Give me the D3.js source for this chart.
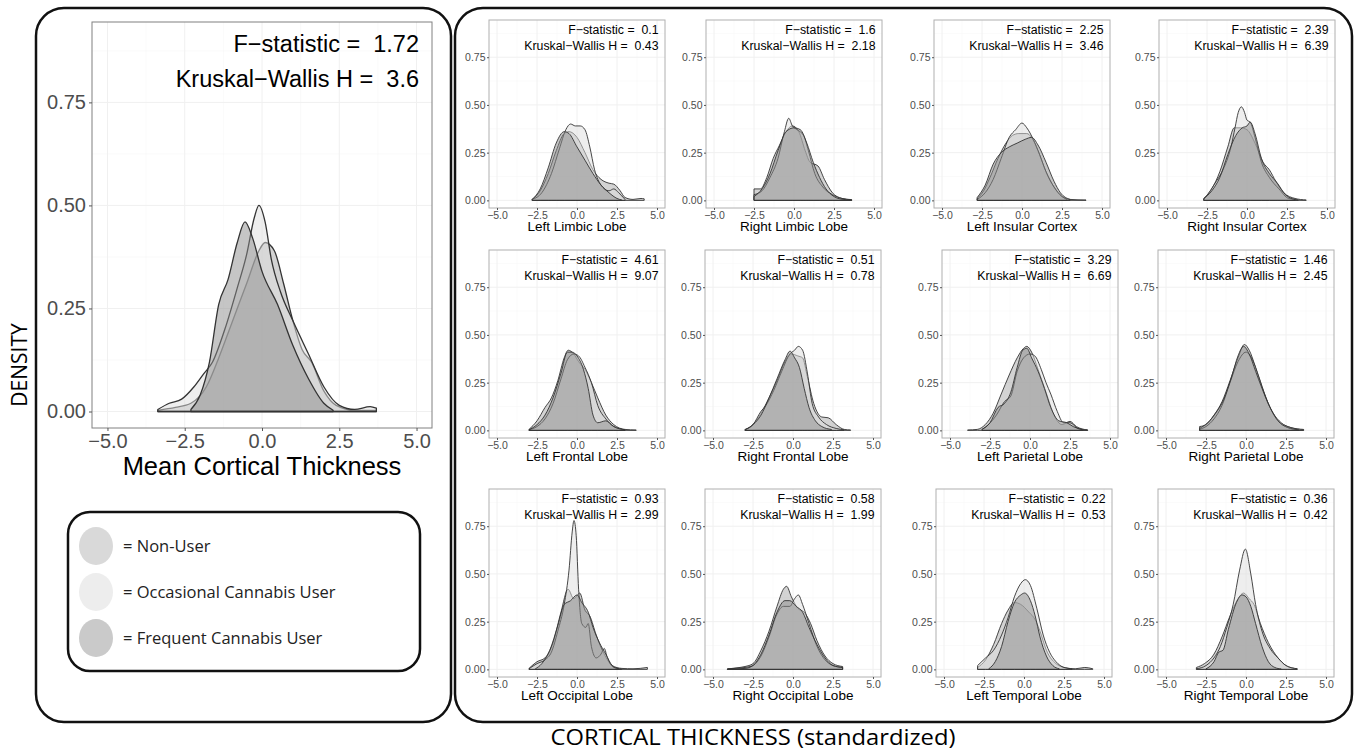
<!DOCTYPE html>
<html>
<head>
<meta charset="utf-8">
<script src="https://cdn.jsdelivr.net/npm/d3@7"></script>
<style>
  body { margin: 0; background: #fff; }
  text { white-space: pre; }
</style>
</head>
<body>
<div id="chart"></div>
<script>
width = 1359;
height = 753;

// groups, in drawing order
const groups = ["Non-User", "Occasional Cannabis User", "Frequent Cannabis User"];
const legendFill = ["#d9d9d9", "#ededed", "#cacaca"];
const curveFill = ["#a8a8a8", "#dedede", "#8c8c8c"];

const xTicks = [-5, -2.5, 0, 2.5, 5];
const yTicks = [0, 0.25, 0.5, 0.75];

// main panel
const meanFStat = 1.72;
const meanKWH = 3.6;
const meanNon = [[-3.37,0.003],[-2.8,0.01],[-2.3,0.02],[-1.8,0.06],[-1.4,0.13],[-1.0,0.21],[-0.5,0.31],[-0.1,0.39],[0.1,0.41],[0.4,0.39],[0.7,0.31],[1.0,0.22],[1.3,0.15],[1.6,0.12],[2.0,0.05],[2.4,0.015],[3.0,0.003],[3.7,0.003]];
const meanOcc = [[-3.37,0.005],[-3.0,0.02],[-2.6,0.03],[-2.2,0.06],[-1.9,0.09],[-1.6,0.12],[-1.2,0.2],[-0.8,0.3],[-0.5,0.38],[-0.25,0.47],[-0.1,0.5],[0.1,0.46],[0.3,0.37],[0.6,0.29],[1.0,0.22],[1.5,0.14],[2.0,0.06],[2.5,0.015],[3.0,0.005],[3.5,0.012],[3.7,0.008]];
const meanFreq = [[-2.3,0.005],[-2.0,0.04],[-1.7,0.12],[-1.4,0.26],[-1.1,0.32],[-0.8,0.41],[-0.55,0.46],[-0.3,0.42],[0,0.34],[0.5,0.26],[1.0,0.16],[1.5,0.08],[2.0,0.02],[2.3,0.003]];

// regional panels
const regions = ["Left Limbic Lobe", "Right Limbic Lobe", "Left Insular Cortex", "Right Insular Cortex",
                 "Left Frontal Lobe", "Right Frontal Lobe", "Left Parietal Lobe", "Right Parietal Lobe",
                 "Left Occipital Lobe", "Right Occipital Lobe", "Left Temporal Lobe", "Right Temporal Lobe"];
const fStats = [0.1, 1.6, 2.25, 2.39, 4.61, 0.51, 3.29, 1.46, 0.93, 0.58, 0.22, 0.36];
const kwH = [0.43, 2.18, 3.46, 6.39, 9.07, 0.78, 6.69, 2.45, 2.99, 1.99, 0.53, 0.42];

const leftLimbicNon = [[-2.8,0.005],[-2.3,0.05],[-1.8,0.14],[-1.3,0.26],[-0.8,0.35],[-0.5,0.36],[0,0.33],[0.5,0.25],[1.0,0.16],[1.5,0.11],[2.0,0.09],[2.3,0.085],[2.7,0.05],[3.0,0.015],[3.5,0.005],[4.0,0.01],[4.2,0.008]];
const leftLimbicOcc = [[-2.8,0.005],[-2.2,0.04],[-1.6,0.14],[-1.1,0.27],[-0.7,0.37],[-0.4,0.4],[-0.1,0.39],[0.2,0.39],[0.5,0.37],[0.8,0.28],[1.1,0.16],[1.5,0.08],[2.0,0.05],[2.3,0.06],[2.6,0.04],[3.0,0.005]];
const leftLimbicFreq = [[-2.8,0.005],[-2.3,0.06],[-1.8,0.17],[-1.3,0.3],[-0.8,0.36],[-0.5,0.35],[0,0.28],[0.5,0.21],[1.0,0.14],[1.5,0.08],[2.0,0.04],[2.5,0.01],[2.8,0.002]];

const rightLimbicNon = [[-2.5,0.06],[-2.1,0.06],[-1.7,0.12],[-1.3,0.22],[-0.9,0.29],[-0.5,0.36],[-0.1,0.39],[0.3,0.36],[0.7,0.26],[1.0,0.2],[1.5,0.18],[1.9,0.11],[2.4,0.04],[3.0,0.01],[3.6,0.003]];
const rightLimbicOcc = [[-2.5,0.03],[-2.0,0.05],[-1.5,0.12],[-1.0,0.22],[-0.6,0.36],[-0.33,0.43],[-0.1,0.39],[0.2,0.37],[0.6,0.34],[0.9,0.26],[1.3,0.14],[1.8,0.07],[2.4,0.03],[3.0,0.01],[3.6,0.004]];
const rightLimbicFreq = [[-2.5,0.02],[-2.0,0.06],[-1.5,0.14],[-1.0,0.26],[-0.5,0.36],[0,0.38],[0.4,0.37],[0.8,0.3],[1.2,0.2],[1.6,0.12],[2.0,0.06],[2.5,0.02],[3.0,0.006],[3.6,0.002]];

const leftInsularNon = [[-2.8,0.01],[-2.4,0.05],[-2.0,0.12],[-1.5,0.22],[-1.0,0.3],[-0.6,0.34],[-0.2,0.35],[0.3,0.35],[0.6,0.33],[1.0,0.26],[1.5,0.15],[2.0,0.07],[2.5,0.02],[3.0,0.005],[4.0,0.002]];
const leftInsularOcc = [[-2.8,0.005],[-2.3,0.04],[-1.8,0.11],[-1.3,0.22],[-0.8,0.33],[-0.4,0.37],[0,0.405],[0.3,0.38],[0.7,0.32],[1.1,0.24],[1.5,0.15],[2.0,0.07],[2.5,0.02],[2.8,0.005]];
const leftInsularFreq = [[-2.8,0.015],[-2.3,0.08],[-1.8,0.19],[-1.3,0.25],[-0.8,0.28],[-0.3,0.3],[0.2,0.32],[0.6,0.33],[1.0,0.29],[1.5,0.2],[2.0,0.1],[2.4,0.04],[3.0,0.005]];

const rightInsularNon = [[-2.7,0.01],[-2.2,0.06],[-1.7,0.15],[-1.2,0.28],[-0.8,0.38],[-0.4,0.38],[0,0.37],[0.5,0.3],[1.0,0.2],[1.4,0.16],[1.8,0.1],[2.3,0.04],[3.0,0.01],[3.7,0.002]];
const rightInsularOcc = [[-2.7,0.005],[-2.3,0.05],[-2.0,0.09],[-1.5,0.16],[-1.0,0.28],[-0.75,0.38],[-0.55,0.46],[-0.35,0.49],[-0.15,0.46],[0,0.42],[0.2,0.41],[0.5,0.33],[0.9,0.2],[1.4,0.12],[2.0,0.06],[2.6,0.01],[3.2,0.003]];
const rightInsularFreq = [[-2.7,0.01],[-2.2,0.05],[-1.7,0.12],[-1.2,0.24],[-0.7,0.34],[-0.3,0.38],[0,0.39],[0.2,0.41],[0.5,0.35],[0.9,0.22],[1.4,0.14],[1.9,0.09],[2.4,0.03],[3.0,0.005]];

const leftFrontalNon = [[-3.0,0.005],[-2.5,0.05],[-2.0,0.12],[-1.6,0.17],[-1.2,0.26],[-0.8,0.38],[-0.55,0.42],[-0.2,0.4],[0.1,0.36],[0.5,0.32],[0.9,0.25],[1.3,0.17],[1.8,0.08],[2.3,0.03],[3.0,0.005],[3.7,0.002]];
const leftFrontalOcc = [[-3.0,0.003],[-2.5,0.02],[-2.0,0.06],[-1.5,0.14],[-1.0,0.27],[-0.6,0.37],[-0.2,0.4],[0.1,0.39],[0.5,0.33],[0.9,0.25],[1.3,0.13],[1.8,0.06],[2.3,0.02],[3.0,0.003]];
const leftFrontalFreq = [[-3.0,0.003],[-2.5,0.03],[-2.0,0.08],[-1.5,0.17],[-1.0,0.3],[-0.6,0.41],[-0.3,0.41],[0,0.39],[0.4,0.32],[0.7,0.22],[1.0,0.08],[1.3,0.04],[1.8,0.05],[2.3,0.02],[3.0,0.003]];

const rightFrontalNon = [[-3.0,0.005],[-2.5,0.03],[-2.0,0.09],[-1.5,0.17],[-1.0,0.26],[-0.5,0.36],[-0.1,0.4],[0.3,0.39],[0.6,0.38],[0.9,0.28],[1.3,0.14],[1.8,0.07],[2.2,0.066],[2.7,0.03],[3.2,0.005],[3.6,0.002]];
const rightFrontalOcc = [[-3.0,0.003],[-2.5,0.03],[-2.0,0.1],[-1.7,0.13],[-1.2,0.21],[-0.7,0.31],[-0.2,0.4],[0.1,0.42],[0.33,0.44],[0.6,0.42],[0.9,0.3],[1.2,0.14],[1.6,0.07],[2.1,0.03],[2.7,0.01],[3.2,0.003]];
const rightFrontalFreq = [[-3.0,0.003],[-2.5,0.03],[-2.0,0.08],[-1.5,0.17],[-1.0,0.27],[-0.5,0.37],[-0.19,0.415],[0.1,0.38],[0.4,0.33],[0.7,0.22],[1.0,0.12],[1.4,0.05],[1.8,0.02],[2.4,0.005]];

const leftParietalNon = [[-3.9,0.002],[-3.3,0.005],[-2.8,0.03],[-2.3,0.09],[-1.8,0.19],[-1.3,0.29],[-0.8,0.38],[-0.4,0.43],[-0.2,0.44],[0.1,0.41],[0.5,0.32],[1.0,0.2],[1.5,0.08],[2.0,0.03],[2.5,0.047],[2.9,0.02],[3.6,0.002]];
const leftParietalOcc = [[-3.0,0.005],[-2.6,0.03],[-2.1,0.08],[-1.6,0.15],[-1.2,0.18],[-0.8,0.31],[-0.4,0.38],[0,0.4],[0.3,0.39],[0.7,0.32],[1.0,0.25],[1.3,0.19],[1.7,0.1],[2.1,0.04],[2.5,0.04],[3.0,0.01],[3.6,0.002]];
const leftParietalFreq = [[-3.0,0.005],[-2.5,0.04],[-2.0,0.12],[-1.6,0.14],[-1.2,0.2],[-0.8,0.33],[-0.45,0.42],[-0.2,0.43],[0.1,0.38],[0.5,0.31],[0.9,0.22],[1.3,0.12],[1.8,0.05],[2.3,0.04],[2.7,0.02],[3.3,0.002]];

const rightParietalNon = [[-2.9,0.02],[-2.5,0.03],[-2.0,0.08],[-1.5,0.15],[-1.0,0.26],[-0.5,0.38],[-0.1,0.45],[0.2,0.42],[0.6,0.33],[1.0,0.23],[1.5,0.12],[2.0,0.05],[2.6,0.02],[3.1,0.008],[3.6,0.003]];
const rightParietalOcc = [[-2.9,0.005],[-2.5,0.02],[-2.0,0.06],[-1.5,0.13],[-1.0,0.25],[-0.5,0.36],[0,0.41],[0.4,0.37],[0.8,0.28],[1.2,0.18],[1.7,0.09],[2.2,0.04],[2.8,0.015],[3.6,0.005]];
const rightParietalFreq = [[-2.9,0.01],[-2.4,0.04],[-1.9,0.09],[-1.4,0.16],[-0.9,0.28],[-0.5,0.39],[-0.15,0.44],[0.2,0.4],[0.6,0.31],[1.0,0.22],[1.5,0.12],[2.0,0.05],[2.6,0.015],[3.3,0.003]];

const leftOccipitalNon = [[-3.0,0.005],[-2.5,0.04],[-2.0,0.06],[-1.5,0.14],[-1.0,0.3],[-0.56,0.42],[-0.2,0.37],[0.17,0.4],[0.5,0.31],[0.8,0.28],[1.2,0.18],[1.7,0.08],[2.2,0.02],[2.8,0.005],[3.5,0.003],[4.4,0.01]];
const leftOccipitalOcc = [[-3.0,0.003],[-2.5,0.03],[-2.0,0.05],[-1.6,0.09],[-1.2,0.2],[-0.8,0.34],[-0.5,0.52],[-0.3,0.72],[-0.19,0.78],[-0.05,0.7],[0.1,0.42],[0.3,0.24],[0.55,0.22],[0.7,0.24],[0.9,0.12],[1.2,0.06],[1.5,0.08],[1.7,0.11],[1.9,0.06],[2.3,0.01],[2.8,0.002]];
const leftOccipitalFreq = [[-2.6,0.003],[-2.2,0.03],[-1.7,0.1],[-1.2,0.23],[-0.8,0.34],[-0.4,0.36],[0,0.39],[0.3,0.35],[0.7,0.3],[1.0,0.22],[1.4,0.14],[1.8,0.08],[2.2,0.02],[2.6,0.003]];

const rightOccipitalNon = [[-4.1,0.002],[-3.5,0.008],[-3.0,0.015],[-2.5,0.03],[-2.0,0.1],[-1.5,0.2],[-1.0,0.33],[-0.6,0.42],[-0.4,0.435],[-0.1,0.38],[0.3,0.32],[0.7,0.3],[1.1,0.24],[1.5,0.15],[2.0,0.07],[2.5,0.03],[3.1,0.015]];
const rightOccipitalOcc = [[-4.1,0.002],[-3.5,0.006],[-3.0,0.01],[-2.5,0.02],[-2.0,0.07],[-1.5,0.17],[-1.0,0.29],[-0.6,0.33],[-0.2,0.33],[0.1,0.37],[0.33,0.39],[0.6,0.34],[1.0,0.24],[1.5,0.12],[2.0,0.05],[2.5,0.02],[3.1,0.01]];
const rightOccipitalFreq = [[-4.1,0.001],[-3.0,0.005],[-2.5,0.02],[-2.0,0.08],[-1.5,0.18],[-1.0,0.3],[-0.5,0.36],[-0.2,0.36],[0.2,0.33],[0.6,0.3],[1.0,0.22],[1.5,0.13],[2.0,0.06],[2.5,0.02],[3.1,0.01]];

const leftTemporalNon = [[-2.9,0.01],[-2.4,0.05],[-1.9,0.13],[-1.4,0.24],[-1.0,0.31],[-0.6,0.35],[-0.2,0.34],[0.3,0.3],[0.7,0.26],[1.0,0.2],[1.4,0.1],[2.0,0.03],[2.6,0.008],[3.2,0.003],[3.8,0.01],[4.3,0.003]];
const leftTemporalOcc = [[-2.9,0.02],[-2.4,0.06],[-1.9,0.1],[-1.4,0.18],[-1.0,0.27],[-0.6,0.38],[-0.2,0.45],[0.08,0.47],[0.4,0.44],[0.8,0.32],[1.2,0.18],[1.6,0.09],[2.0,0.04],[2.5,0.01],[3.0,0.003]];
const leftTemporalFreq = [[-2.2,0.003],[-1.8,0.04],[-1.4,0.12],[-1.0,0.25],[-0.6,0.35],[-0.2,0.39],[0.04,0.4],[0.4,0.36],[0.7,0.28],[1.0,0.17],[1.4,0.07],[1.8,0.02],[2.2,0.003]];

const rightTemporalNon = [[-3.1,0.01],[-2.6,0.03],[-2.0,0.08],[-1.5,0.17],[-1.0,0.28],[-0.5,0.37],[-0.15,0.4],[0.2,0.37],[0.5,0.34],[0.9,0.24],[1.4,0.14],[2.0,0.06],[2.6,0.015],[3.2,0.003]];
const rightTemporalOcc = [[-3.1,0.003],[-2.5,0.02],[-2.0,0.06],[-1.6,0.12],[-1.2,0.22],[-0.8,0.34],[-0.4,0.52],[-0.04,0.63],[0.3,0.5],[0.6,0.34],[1.0,0.2],[1.5,0.11],[2.0,0.06],[2.5,0.02],[3.2,0.003]];
const rightTemporalFreq = [[-2.5,0.003],[-2.0,0.04],[-1.7,0.09],[-1.44,0.1],[-1.1,0.21],[-0.6,0.35],[-0.25,0.39],[0,0.38],[0.3,0.33],[0.6,0.24],[1.0,0.12],[1.4,0.04],[1.8,0.01],[2.2,0.002]];

const regionCurves = [
  [leftLimbicNon, leftLimbicOcc, leftLimbicFreq],
  [rightLimbicNon, rightLimbicOcc, rightLimbicFreq],
  [leftInsularNon, leftInsularOcc, leftInsularFreq],
  [rightInsularNon, rightInsularOcc, rightInsularFreq],
  [leftFrontalNon, leftFrontalOcc, leftFrontalFreq],
  [rightFrontalNon, rightFrontalOcc, rightFrontalFreq],
  [leftParietalNon, leftParietalOcc, leftParietalFreq],
  [rightParietalNon, rightParietalOcc, rightParietalFreq],
  [leftOccipitalNon, leftOccipitalOcc, leftOccipitalFreq],
  [rightOccipitalNon, rightOccipitalOcc, rightOccipitalFreq],
  [leftTemporalNon, leftTemporalOcc, leftTemporalFreq],
  [rightTemporalNon, rightTemporalOcc, rightTemporalFreq]
];

// panel placement (pasted-up figure, so not a perfect grid)
const panelPos = [
  [489, 20], [706, 20], [934, 20], [1159, 20],
  [489, 250], [705, 250], [942, 250], [1158, 250],
  [489, 489], [705, 489], [936, 489], [1158, 489]
];

const svg = d3.select("#chart")
              .append("svg")
              .attr("width", width)
              .attr("height", height);

const sansR = "'Liberation Sans', Arial, sans-serif";
const sansM = "'Open Sans', 'Noto Sans', sans-serif";

// outer rounded frames
svg.append("rect").attr("x", 36).attr("y", 8).attr("width", 415).attr("height", 714)
   .attr("rx", 28).attr("fill", "none").attr("stroke", "#111").attr("stroke-width", 2.5);
svg.append("rect").attr("x", 455).attr("y", 8).attr("width", 897).attr("height", 714)
   .attr("rx", 28).attr("fill", "none").attr("stroke", "#111").attr("stroke-width", 2.5);

function drawPanel(g, w, h, curves, fVal, hVal, title, s) {
  // s holds sizes for this panel type
  var x = d3.scaleLinear().domain([-5.5, 5.5]).range([0, w]);
  var y = d3.scaleLinear().domain([-0.04, 0.945]).range([h, 0]);

  g.append("rect").attr("width", w).attr("height", h).attr("fill", "#fff");

  // grid
  var minorX = [-3.75, -1.25, 1.25, 3.75];
  var minorY = [0.125, 0.375, 0.625, 0.875];
  g.selectAll(".gmx").data(minorX).enter().append("line")
    .attr("x1", d => x(d)).attr("x2", d => x(d)).attr("y1", 0).attr("y2", h)
    .attr("stroke", "#f5f5f5").attr("stroke-width", 0.5);
  g.selectAll(".gmy").data(minorY).enter().append("line")
    .attr("y1", d => y(d)).attr("y2", d => y(d)).attr("x1", 0).attr("x2", w)
    .attr("stroke", "#f5f5f5").attr("stroke-width", 0.5);
  g.selectAll(".gx").data(xTicks).enter().append("line")
    .attr("x1", d => x(d)).attr("x2", d => x(d)).attr("y1", 0).attr("y2", h)
    .attr("stroke", "#f0f0f0").attr("stroke-width", 1);
  g.selectAll(".gy").data(yTicks).enter().append("line")
    .attr("y1", d => y(d)).attr("y2", d => y(d)).attr("x1", 0).attr("x2", w)
    .attr("stroke", "#f0f0f0").attr("stroke-width", 1);

  var area = d3.area()
    .x(d => x(d[0]))
    .y0(y(0))
    .y1(d => y(d[1]))
    .curve(d3.curveMonotoneX);

  curves.forEach(function(c, i) {
    g.append("path")
      .attr("d", area(c) + "Z")
      .attr("fill", curveFill[i])
      .attr("fill-opacity", 0.5)
      .attr("stroke", "#333")
      .attr("stroke-width", s.line)
      .attr("stroke-linejoin", "round");
  });

  g.append("rect").attr("width", w).attr("height", h).attr("fill", "none")
    .attr("stroke", s.border).attr("stroke-width", 1);

  // axes
  var xAxis = g.append("g").attr("transform", "translate(0," + h + ")")
    .call(d3.axisBottom(x).tickValues(xTicks).tickFormat(d3.format(".1f")).tickSize(s.tick).tickPadding(s.pad));
  var yAxis = g.append("g")
    .call(d3.axisLeft(y).tickValues(yTicks).tickFormat(d3.format(".2f")).tickSize(s.tick).tickPadding(s.pad));
  [xAxis, yAxis].forEach(function(a) {
    a.select(".domain").remove();
    a.selectAll("line").attr("stroke", "#555");
    a.selectAll("text").attr("fill", "#4d4d4d").style("font-family", sansR).style("font-size", s.tickFont + "px");
  });

  g.append("text").attr("x", w - s.statRight).attr("y", s.stat1)
    .attr("text-anchor", "end").style("font-family", sansR).style("font-size", s.statFont + "px")
    .text("F\u2212statistic =  " + fVal);
  g.append("text").attr("x", w - s.statRight).attr("y", s.stat2)
    .attr("text-anchor", "end").style("font-family", sansR).style("font-size", s.statFont + "px")
    .text("Kruskal\u2212Wallis H =  " + hVal);

  g.append("text").attr("x", w / 2).attr("y", h + s.titleY)
    .attr("text-anchor", "middle").style("font-family", sansR).style("font-size", s.titleFont + "px")
    .text(title);
}

// main panel
var mainSizes = {line: 1.3, border: "#808080", tick: 3, pad: 3, tickFont: 20, statFont: 23.5,
                 statRight: 13, stat1: 30, stat2: 65, titleFont: 25.5, titleY: 47};
drawPanel(svg.append("g").attr("transform", "translate(92,22)"), 340, 406,
          [meanNon, meanOcc, meanFreq], meanFStat, meanKWH, "Mean Cortical Thickness", mainSizes);

// small panels
var smallSizes = {line: 0.9, border: "#b0b0b0", tick: 2, pad: 1.5, tickFont: 10.5, statFont: 12.3,
                  statRight: 6.5, stat1: 13.5, stat2: 30, titleFont: 13.5, titleY: 23};
regions.forEach(function(r, i) {
  var g = svg.append("g").attr("transform", "translate(" + panelPos[i][0] + "," + panelPos[i][1] + ")");
  drawPanel(g, 176, 188, regionCurves[i], fStats[i], kwH[i], r, smallSizes);
});

// legend
svg.append("rect").attr("x", 68).attr("y", 512).attr("width", 352).attr("height", 159)
   .attr("rx", 22).attr("fill", "none").attr("stroke", "#111").attr("stroke-width", 2.5);
var legY = [546, 592, 638];
groups.forEach(function(gname, i) {
  svg.append("ellipse").attr("cx", 96).attr("cy", legY[i]).attr("rx", 17).attr("ry", 19)
     .attr("fill", legendFill[i]);
  svg.append("text").attr("x", 123).attr("y", legY[i] + 6)
     .style("font-family", sansM).style("font-size", "16.5px").attr("fill", "#222")
     .text("= " + gname);
});

// shared labels
svg.append("text").attr("transform", "translate(27,365) rotate(-90)")
   .attr("text-anchor", "middle").style("font-family", sansM).style("font-size", "21px")
   .text("DENSITY");
svg.append("text").attr("x", 753).attr("y", 745)
   .attr("text-anchor", "middle").style("font-family", sansM).style("font-size", "22px")
   .attr("textLength", 405).attr("lengthAdjust", "spacingAndGlyphs")
   .text("CORTICAL THICKNESS (standardized)");
</script>
</body>
</html>
